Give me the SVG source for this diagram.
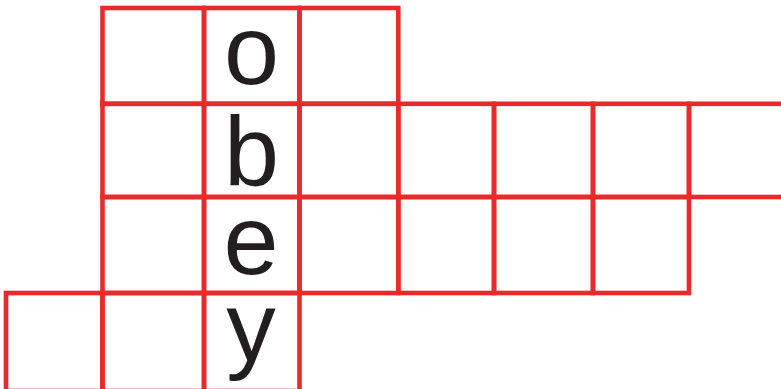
<svg xmlns="http://www.w3.org/2000/svg" width="781" height="389" viewBox="0 0 781 389">
<style>
.c{fill:none;stroke:#e92a2b;stroke-width:4.6}
.t{font-family:"Liberation Sans",Arial,sans-serif;font-size:99px;fill:#231f20;text-anchor:middle}
</style>
<rect width="781" height="389" fill="#fff"/>
<g id="row1">
<rect class="c" x="102.5" y="8" width="101.5" height="95.8"/>
<rect class="c" x="204" y="8" width="95.5" height="95.8"/>
<rect class="c" x="299.5" y="8" width="98.8" height="95.8"/>
</g>
<g id="row2">
<rect class="c" x="102.5" y="103.8" width="101.5" height="93.2"/>
<rect class="c" x="204" y="103.8" width="95.5" height="93.2"/>
<rect class="c" x="299.5" y="103.8" width="98.8" height="93.2"/>
<rect class="c" x="398.3" y="103.8" width="95.7" height="93.2"/>
<rect class="c" x="494" y="103.8" width="99" height="93.2"/>
<rect class="c" x="593" y="103.8" width="96" height="93.2"/>
<rect class="c" x="689" y="103.8" width="100" height="93.2"/>
</g>
<g id="row3">
<rect class="c" x="102.5" y="197" width="101.5" height="96"/>
<rect class="c" x="204" y="197" width="95.5" height="96"/>
<rect class="c" x="299.5" y="197" width="98.8" height="96"/>
<rect class="c" x="398.3" y="197" width="95.7" height="96"/>
<rect class="c" x="494" y="197" width="99" height="96"/>
<rect class="c" x="593" y="197" width="96" height="96"/>
</g>
<g id="row4">
<rect class="c" x="6" y="293" width="96.5" height="98"/>
<rect class="c" x="102.5" y="293" width="101.5" height="98"/>
<rect class="c" x="204" y="293" width="95.5" height="98"/>
</g>
<g id="letters">
<text class="t" x="251.5" y="83.5">o</text>
<text class="t" x="251.5" y="185">b</text>
<text class="t" x="251" y="274">e</text>
<text class="t" x="251" y="361">y</text>
</g>
</svg>
